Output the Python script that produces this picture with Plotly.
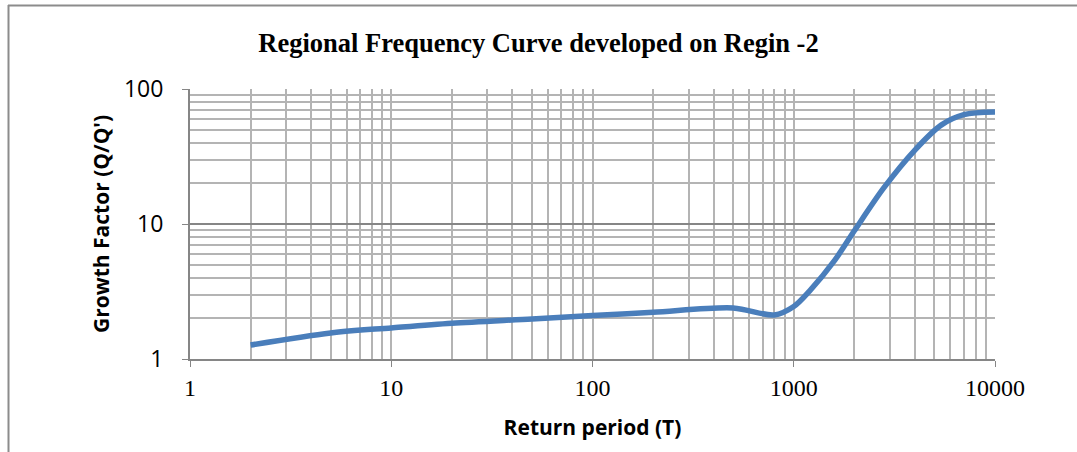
import plotly.graph_objects as go

return_period = [2, 5, 10, 20, 50, 100, 200, 500, 800, 1000, 1200, 1600, 2000, 2800, 4000, 5400, 7000, 10000]
growth_factor = [1.27, 1.56, 1.70, 1.84, 1.98, 2.10, 2.22, 2.39, 2.12, 2.45, 3.2, 5.4, 8.9, 18.5, 35.3, 54, 64.5, 67.5]

title_text = "Regional Frequency Curve developed on Regin -2"
x_title = "Return period (T)"
y_title = "Growth Factor (Q/Q')"
x_ticks = [1, 10, 100, 1000, 10000]
y_ticks = [1, 10, 100]

L, R, T, B = 190, 82, 89, 93
W, H = 1077, 452
pw, ph = W - L - R, H - T - B

def px2paper_x(px):
    return (px - L) / pw

def py2paper_y(py):
    return (H - B - py) / ph

fig = go.Figure()
fig.add_trace(go.Scatter(
    x=return_period, y=growth_factor, mode="lines",
    line=dict(color="#4a7ebb", width=5.5, shape="spline", smoothing=0.9),
    hoverinfo="x+y", showlegend=False,
))

fig.update_layout(
    width=W, height=H,
    margin=dict(l=L, r=R, t=T, b=B),
    paper_bgcolor="white", plot_bgcolor="white",
    title=dict(text=f"<b>{title_text}</b>", x=0.5, xanchor="center", y=1 - 43 / H, yanchor="middle",
               font=dict(family="Liberation Serif", size=26.5, color="black")),
    xaxis=dict(
        type="log", range=[0, 4],
        tickvals=x_ticks, ticktext=[str(v) for v in x_ticks],
        tickfont=dict(family="Liberation Serif", size=24, color="black"),
        ticks="outside", ticklen=6, tickcolor="#868686",
        showline=True, linecolor="#868686", linewidth=2,
        showgrid=True, gridcolor="#b4b4b4", gridwidth=1.7,
        minor=dict(dtick="D1", showgrid=True, gridcolor="#b4b4b4", gridwidth=1.7, ticks=""),
        title=dict(text=f"<b>{x_title}</b>", standoff=21,
                   font=dict(family="Open Sans", size=21, color="black")),
        zeroline=False,
    ),
    yaxis=dict(
        type="log", range=[0, 2],
        tickvals=y_ticks, ticktext=[str(v) for v in y_ticks],
        tickfont=dict(family="Open Sans", size=23, color="black"),
        ticks="outside", ticklen=6, tickcolor="#868686",
        ticklabelstandoff=14,
        showline=True, linecolor="#868686", linewidth=2,
        showgrid=True, gridcolor="#868686", gridwidth=2,
        minor=dict(dtick="D1", showgrid=True, gridcolor="#b4b4b4", gridwidth=1.7, ticks=""),
        title=dict(text=f"<b>{y_title}</b>", standoff=9,
                   font=dict(family="Open Sans", size=21, color="black")),
        zeroline=False,
    ),
)

# outer chart border (top and left edges visible)
fig.add_shape(type="line", xref="paper", yref="paper",
              x0=px2paper_x(8), x1=px2paper_x(1090), y0=py2paper_y(5.5), y1=py2paper_y(5.5),
              line=dict(color="#8c8c8c", width=2))
fig.add_shape(type="line", xref="paper", yref="paper",
              x0=px2paper_x(8.5), x1=px2paper_x(8.5), y0=py2paper_y(5), y1=py2paper_y(470),
              line=dict(color="#8c8c8c", width=2))

fig.write_html("out.html")
